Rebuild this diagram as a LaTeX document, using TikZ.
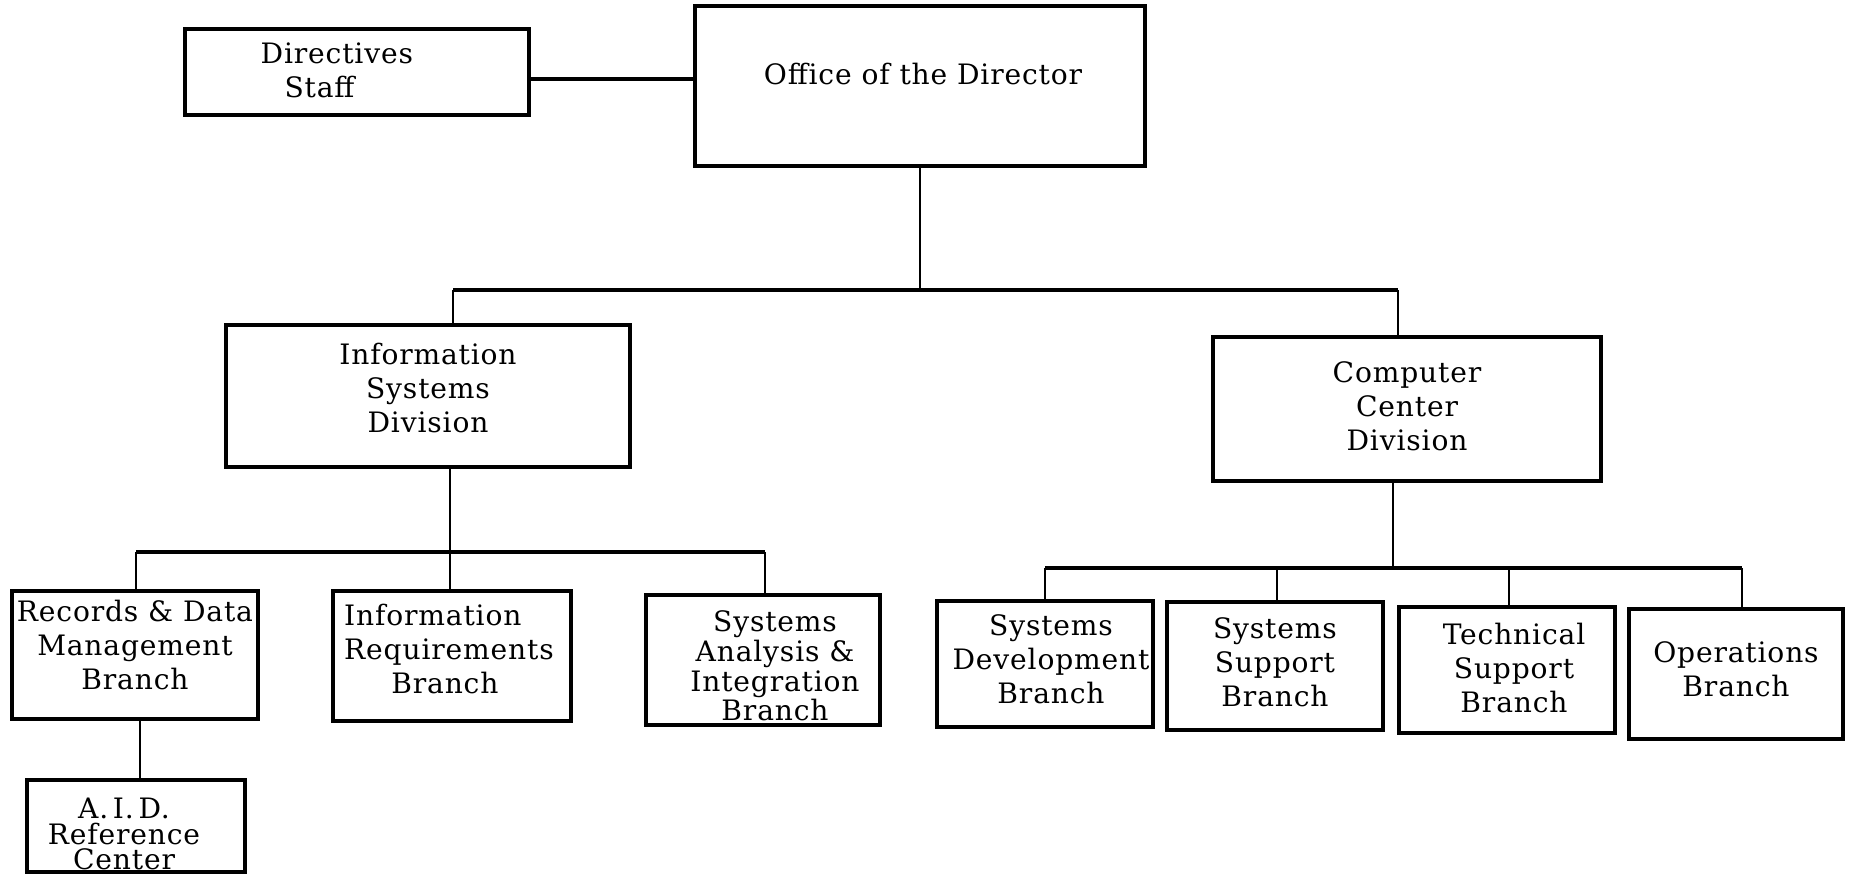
\documentclass[tikz,border=0pt]{standalone}
\usepackage{fontspec}
\setmainfont[LetterSpace=3]{DejaVu Serif}
\begin{document}
\begin{tikzpicture}[x=0.01cm,y=-0.01cm,
  box/.style={draw, line width=0.04cm, inner sep=0pt},
  txt/.style={inner sep=0pt, align=center, font=\fontsize{8}{9.6}\selectfont},
  link/.style={line width=0.025cm},
  bar/.style={line width=0.037cm}]
\useasboundingbox (0,0) rectangle (1854,875);
% boxes
\node[box, minimum width=3.43cm, minimum height=0.85cm] (dir) at (357,72) {};
\node[txt, anchor=west, align=left] (dirt) at (260,70) {Directives\\\hspace*{6.8pt}Staff};
\node[box, minimum width=4.49cm, minimum height=1.60cm] (off) at (920,86) {};
\node[txt] (offt) at (923,74) {Office of the Director};
\node[box, minimum width=4.03cm, minimum height=1.42cm,
  label={[txt, yshift=0.08cm]center:{Information\\Systems\\Division}}] (isd) at (428,396) {};
\node[box, minimum width=3.87cm, minimum height=1.44cm,
  label={[txt, yshift=0.03cm]center:{Computer\\Center\\Division}}] (ccd) at (1407,409) {};
\node[box, minimum width=2.46cm, minimum height=1.28cm,
  label={[txt, yshift=0.10cm]center:{Records \& Data\\Management\\Branch}}] (rec) at (135,655) {};
\node[box, minimum width=2.38cm, minimum height=1.30cm,
  label={[txt, align=left, xshift=-0.03cm, yshift=0.07cm]center:{Information\\Requirements\\\hspace*{13.4pt}Branch}}] (irq) at (452,656) {};
\node[box, minimum width=2.34cm, minimum height=1.29cm,
  label={[txt, font=\fontsize{8}{8.4}\selectfont, xshift=0.12cm, yshift=-0.06cm]center:{Systems\\Analysis \&\\Integration\\Branch}}] (sai) at (763,660) {};
\node[box, minimum width=2.15cm, minimum height=1.26cm,
  label={[txt, xshift=0.06cm, yshift=0.05cm]center:{Systems\\Development\\Branch}}] (sdv) at (1045,664) {};
\node[box, minimum width=2.15cm, minimum height=1.27cm,
  label={[txt, yshift=0.04cm]center:{Systems\\Support\\Branch}}] (ssp) at (1275,666) {};
\node[box, minimum width=2.16cm, minimum height=1.26cm,
  label={[txt, xshift=0.07cm, yshift=0.02cm]center:{Technical\\Support\\Branch}}] (tsp) at (1507,670) {};
\node[box, minimum width=2.14cm, minimum height=1.30cm,
  label={[txt, yshift=0.05cm]center:{Operations\\Branch}}] (ops) at (1736,674) {};
\node[box, minimum width=2.18cm, minimum height=0.92cm,
  label={[txt, font=\fontsize{8}{7.2}\selectfont, xshift=-0.12cm, yshift=-0.08cm]center:{A.\,I.\,D.\\Reference\\Center}}] (aid) at (136,826) {};
% connectors
\draw[bar] ([yshift=-0.07cm]dir.east) -- ([yshift=-0.07cm]dir.east -| off.west);
\coordinate (t1) at (453,290);
\coordinate (t2) at (1398,290);
\draw[link] (off.south) -- (off.south |- t1);
\draw[bar] (t1) -- (t2);
\draw[link] (t1) -- (t1 |- isd.north);
\draw[link] (t2) -- (t2 |- ccd.north);
\coordinate (u1) at (136,552);
\coordinate (u2) at (450,552);
\coordinate (u3) at (765,552);
\draw[bar] (u1) -- (u3);
\draw[link] (u2 |- isd.south) -- (u2 |- irq.north);
\draw[link] (u1) -- (u1 |- rec.north);
\draw[link] (u3) -- (u3 |- sai.north);
\coordinate (v0) at (1393,568);
\coordinate (v1) at (1045,568);
\coordinate (v2) at (1277,568);
\coordinate (v3) at (1509,568);
\coordinate (v4) at (1742,568);
\draw[link] (v0 |- ccd.south) -- (v0);
\draw[bar] (v1) -- (v4);
\draw[link] (v1) -- (v1 |- sdv.north);
\draw[link] (v2) -- (v2 |- ssp.north);
\draw[link] (v3) -- (v3 |- tsp.north);
\draw[link] (v4) -- (v4 |- ops.north);
\draw[link] ([xshift=0.05cm]rec.south) -- ([xshift=0.05cm]rec.south |- aid.north);
\end{tikzpicture}
\end{document}
